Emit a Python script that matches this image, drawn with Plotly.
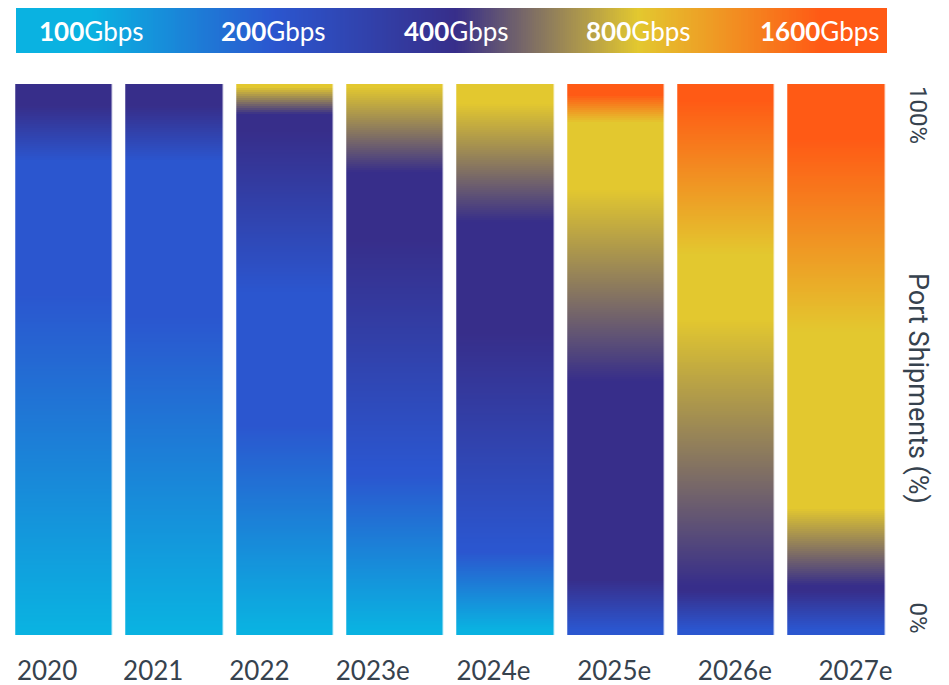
import numpy as np
import plotly.graph_objects as go

# ---------------- data ----------------
years = ["2020", "2021", "2022", "2023e", "2024e", "2025e", "2026e", "2027e"]
speed_labels = ["100", "200", "400", "800", "1600"]
speed_colors = ["#0AB2E1", "#2B56CF", "#372E8A", "#E3C82F", "#FF5A15"]

# Share of port shipments (%) over which each speed's colour is solid, per year
# (between the solid ranges the colours blend). None = speed not present.
solid_100g = [(0, 1), (0, 1), (0, 1), (0, 1), (0, 1), None, None, None]
solid_200g = [(62, 86), (58, 86), (38, 62), (29, 30), (15, 16), (0, 1), (0, 1), (0, 1)]
solid_400g = [(96, 100), (96, 100), (91.5, 94.5), (72, 84), (55, 75), (10, 46), (8, 9), (8, 9)]
solid_800g = [None, None, (99.5, 100), (99.5, 100), (96.5, 100), (81, 93), (57.5, 69), (23, 55)]
solid_1600g = [None, None, None, None, None, (98, 100), (97, 100), (90, 100)]

solid_ranges = [solid_100g, solid_200g, solid_400g, solid_800g, solid_1600g]

# ---------------- build gradient columns ----------------
ny = 276
y_centres = (np.arange(ny) + 0.5) * 100.0 / ny
z = np.zeros((ny, len(years)))
for j in range(len(years)):
    pos, idx = [], []
    for k, ranges in enumerate(solid_ranges):
        r = ranges[j]
        if r is None:
            continue
        pos += [r[0], r[1]]
        idx += [k, k]
    z[:, j] = np.interp(y_centres, pos, idx)

colorscale = [[k / 4, c] for k, c in enumerate(speed_colors)]

# year labels are laid out as a flowing text row (character units + fixed gap)
label_gap = 3.3
label_pos = []
cursor = 0.0
for yr in years:
    label_pos.append(cursor + len(yr) / 2)
    cursor += len(yr) + label_gap

W, H = 949, 685
def px_x(p):
    return p / W
def px_y(p):
    return 1 - p / H

fig = go.Figure()

fig.add_trace(go.Heatmap(
    x=years, y=y_centres, z=z, colorscale=colorscale, zmin=0, zmax=4,
    showscale=False, xgap=13.5, ygap=0, hoverinfo="skip",
    xaxis="x", yaxis="y",
))

# legend strip
lx = np.linspace(-0.41, 4.36, 400)
fig.add_trace(go.Heatmap(
    x=lx, y=[0], z=[np.clip(lx, 0, 4)], colorscale=colorscale, zmin=0, zmax=4,
    showscale=False, hoverinfo="skip", xaxis="x3", yaxis="y3",
))

# invisible trace to carry the year label axis
fig.add_trace(go.Scatter(
    x=label_pos, y=[50] * len(years), mode="markers",
    marker=dict(opacity=0), hoverinfo="skip", showlegend=False,
    xaxis="x2", yaxis="y",
))

text_col = "#36424E"
step = (4.36 + 0.41) / 399

fig.update_layout(
    width=W, height=H, autosize=False,
    margin=dict(l=0, r=0, t=0, b=0, pad=0, autoexpand=False),
    paper_bgcolor="white", plot_bgcolor="white",
    showlegend=False,
    xaxis=dict(domain=[px_x(9.25), px_x(891.75)], range=[-0.5, 7.5],
               showticklabels=False, showgrid=False, zeroline=False,
               showline=False, ticks="", automargin=False),
    yaxis=dict(domain=[px_y(635), px_y(84)], range=[0, 100],
               showticklabels=False, showgrid=False, zeroline=False,
               showline=False, ticks="", automargin=False),
    xaxis2=dict(range=[-0.602, 60.09], anchor="y", overlaying="x",
                tickmode="array", tickvals=label_pos, ticktext=years,
                ticks="outside", ticklen=13, tickcolor="rgba(0,0,0,0)",
                tickfont=dict(family="Lato", size=26, color=text_col),
                showgrid=False, zeroline=False, showline=False, automargin=False),
    xaxis3=dict(domain=[px_x(16), px_x(887)], range=[-0.41 - step / 2, 4.36 + step / 2],
                anchor="y3", visible=False),
    yaxis3=dict(domain=[px_y(53), px_y(8)], range=[-0.5, 0.5],
                anchor="x3", visible=False),
)

annotations = []
for k, lab in enumerate(speed_labels):
    annotations.append(dict(
        x=k, y=0, xref="x3", yref="y3", showarrow=False,
        text=f"<b>{lab}</b>Gbps",
        font=dict(family="Lato", size=26, color="white"),
        xanchor="center", yanchor="middle",
    ))
annotations.append(dict(
    x=px_x(918), y=100, xref="paper", yref="y", showarrow=False,
    text="100%", textangle=90, xanchor="center", yanchor="top",
    font=dict(family="Roboto", size=24, color=text_col),
))
annotations.append(dict(
    x=px_x(918), y=0, xref="paper", yref="y", showarrow=False,
    text="0%", textangle=90, xanchor="center", yanchor="bottom",
    font=dict(family="Roboto", size=24, color=text_col),
))
annotations.append(dict(
    x=px_x(918), y=px_y(388), xref="paper", yref="paper", showarrow=False,
    text="Port Shipments (%)", textangle=90, xanchor="center", yanchor="middle",
    font=dict(family="Roboto", size=27, color=text_col),
))
fig.update_layout(annotations=annotations)

fig.write_html(
    "out.html",
    config={"responsive": False, "displayModeBar": False},
    post_script="document.body.style.margin='0';document.body.style.overflow='hidden';",
)
